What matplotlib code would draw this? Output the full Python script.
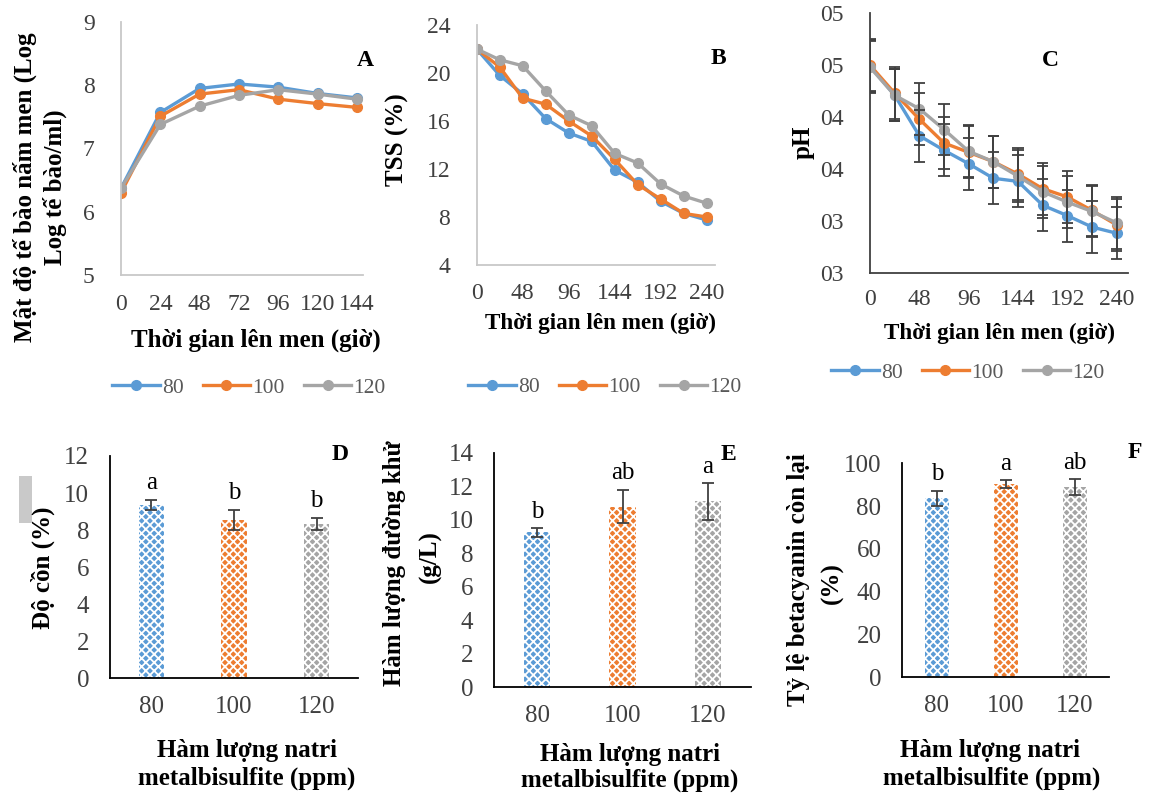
import matplotlib
matplotlib.use('Agg')
import matplotlib.pyplot as plt
import numpy as np
from matplotlib.patches import Rectangle
from matplotlib.lines import Line2D

plt.rcParams['font.family'] = ['Liberation Serif', 'DejaVu Serif']
plt.rcParams['hatch.linewidth'] = 1.3

# ---------------- data ----------------
series = ['80', '100', '120']
colors = ['#5B9BD5', '#ED7D31', '#A5A5A5']

time_A = [0, 24, 48, 72, 96, 120, 144]
yeast_80 = [6.37, 7.57, 7.95, 8.02, 7.97, 7.87, 7.80]
yeast_100 = [6.30, 7.51, 7.86, 7.93, 7.78, 7.71, 7.65]
yeast_120 = [6.37, 7.38, 7.67, 7.84, 7.93, 7.86, 7.78]

time_BC = [0, 24, 48, 72, 96, 120, 144, 168, 192, 216, 240]
tss_80 = [22.0, 19.8, 18.25, 16.2, 15.0, 14.3, 11.9, 10.9, 9.3, 8.3, 7.75]
tss_100 = [22.0, 20.5, 17.9, 17.4, 16.0, 14.75, 12.8, 10.7, 9.5, 8.3, 8.0]
tss_120 = [22.0, 21.1, 20.6, 18.5, 16.5, 15.6, 13.3, 12.5, 10.75, 9.75, 9.15]

ph_80 = [4.49, 4.21, 3.82, 3.68, 3.55, 3.41, 3.38, 3.15, 3.05, 2.94, 2.88]
ph_100 = [4.50, 4.23, 3.98, 3.75, 3.66, 3.57, 3.45, 3.31, 3.23, 3.10, 2.96]
ph_120 = [4.48, 4.21, 4.08, 3.88, 3.67, 3.57, 3.43, 3.28, 3.18, 3.09, 2.98]
ph_err = [0.25, 0.25, 0.25, 0.25, 0.25, 0.25, 0.25, 0.25, 0.25, 0.25, 0.25]
ph_ticks = [5.0, 4.5, 4.0, 3.5, 3.0, 2.5]
ph_ticklabels = ['05', '05', '04', '04', '03', '03']

alcohol = [9.36, 8.55, 8.33]
alcohol_err = [0.27, 0.55, 0.34]
alcohol_letters = ['a', 'b', 'b']

sugar = [9.24, 10.78, 11.09]
sugar_err = [0.25, 1.0, 1.09]
sugar_letters = ['b', 'ab', 'a']

betacyanin = [83.6, 90.3, 88.8]
betacyanin_err = [3.5, 1.7, 3.7]
betacyanin_letters = ['b', 'a', 'ab']

# ---------------- figure ----------------
W, H = 1154, 797
fig = plt.figure(figsize=(W / 100, H / 100), dpi=100)


def rect(l, t, r, b):
    return [l / W, 1 - b / H, (r - l) / W, (b - t) / H]


def ftext(x, y, s, **kw):
    fig.text(x / W, 1 - y / H, s, **kw)


TICKC = '#404040'
LEGC = '#595959'


def style(ax, spine_color, fs, xpad, ypad):
    for s in ['top', 'right']:
        ax.spines[s].set_visible(False)
    for s in ['left', 'bottom']:
        ax.spines[s].set_color(spine_color)
        ax.spines[s].set_linewidth(1.3)
    ax.tick_params(axis='both', length=0, labelsize=fs, colors=TICKC)
    ax.tick_params(axis='x', pad=xpad)
    ax.tick_params(axis='y', pad=ypad)


def line_legend(cx, cy):
    handles = [Line2D([], [], color=c, lw=2.4, marker='o', ms=7) for c in colors]
    leg = fig.legend(handles, series, loc='center', bbox_to_anchor=(cx / W, 1 - cy / H),
                     ncol=3, frameon=False, fontsize=15.5, handlelength=2.2,
                     handletextpad=0.1, columnspacing=0.9)
    for t in leg.get_texts():
        t.set_color(LEGC)


LBL = dict(fontsize=18, fontweight='bold', color='black')
LBL2 = dict(fontsize=16.7, fontweight='bold', color='black')
TOPFS = 17
BOTFS = 18

# ---- Panel A ----
axA = fig.add_axes(rect(121, 22, 363, 275))
for ys, c in zip([yeast_80, yeast_100, yeast_120], colors):
    axA.plot(time_A, ys, color=c, lw=2.4, marker='o', ms=7)
axA.set_xlim(0, 147.7)
axA.set_ylim(5, 9)
axA.set_xticks(time_A)
axA.set_yticks([5, 6, 7, 8, 9])
style(axA, '#c8c8c8', TOPFS, 14, 19)
ftext(256, 340, 'Thời gian lên men (giờ)', ha='center', va='center', **LBL)
ftext(25, 187, 'Mật độ tế bào nấm men (Log', ha='center', va='center', rotation=90, **LBL)
ftext(55, 187, 'Log tế bào/ml)', ha='center', va='center', rotation=90, **LBL)
ftext(365, 60, 'A', ha='center', va='center', fontsize=17, fontweight='bold')
line_legend(249, 388)

# ---- Panel B ----
axB = fig.add_axes(rect(476.7, 25, 715, 265))
for ys, c in zip([tss_80, tss_100, tss_120], colors):
    axB.plot(time_BC, ys, color=c, lw=2.4, marker='o', ms=7)
axB.set_xlim(0, 248.7)
axB.set_ylim(4, 24)
axB.set_xticks([0, 48, 96, 144, 192, 240])
axB.set_yticks([4, 8, 12, 16, 20, 24])
style(axB, '#c8c8c8', TOPFS, 13, 19)
ftext(600, 323, 'Thời gian lên men (giờ)', ha='center', va='center', **LBL2)
ftext(397, 140, 'TSS (%)', ha='center', va='center', rotation=90, **LBL)
ftext(718, 58, 'B', ha='center', va='center', fontsize=17, fontweight='bold')
line_legend(605, 387)

# ---- Panel C ----
axC = fig.add_axes(rect(870, 13.3, 1128, 272.7))
for ys, c in zip([ph_80, ph_100, ph_120], colors):
    axC.plot(time_BC, ys, color=c, lw=2.4, marker='o', ms=7, zorder=3)
t_arr = np.array(time_BC, dtype=float)
e_arr = np.array(ph_err)
cap_half = 5.4  # half cap width in hours
for ys in [ph_80, ph_100, ph_120]:
    y_arr = np.array(ys)
    axC.vlines(t_arr, y_arr - e_arr, y_arr + e_arr, colors='#404040', lw=1.3, zorder=4)
    axC.hlines(np.concatenate([y_arr - e_arr, y_arr + e_arr]),
               np.concatenate([t_arr, t_arr]) - cap_half,
               np.concatenate([t_arr, t_arr]) + cap_half,
               colors='#404040', lw=1.3, zorder=4)
axC.set_xlim(0, 251)
axC.set_ylim(2.5, 5.0)
axC.set_xticks([0, 48, 96, 144, 192, 240])
axC.set_yticks(ph_ticks)
axC.set_yticklabels(ph_ticklabels)
style(axC, '#404040', TOPFS, 12, 19)
for sp in axC.spines.values():
    sp.set_zorder(5)
ftext(999, 333, 'Thời gian lên men (giờ)', ha='center', va='center', **LBL2)
ftext(803, 142, 'pH', ha='center', va='center', rotation=90, **LBL)
ftext(1050, 60, 'C', ha='center', va='center', fontsize=17, fontweight='bold')
line_legend(968, 373)


# ---- bar panels ----
def bar_panel(box, vals, errs, letters, ymax, step, width, letter_pad):
    ax = fig.add_axes(rect(*box))
    xs = range(len(series))
    for i, (v, c) in enumerate(zip(vals, colors)):
        ax.bar(i, v, width=width, facecolor=c, edgecolor='white', linewidth=0,
               hatch='xxxx', zorder=2)
    ax.errorbar(list(xs), vals, yerr=errs, fmt='none', ecolor='#404040',
                elinewidth=1.3, capsize=4, capthick=1.3, zorder=3)
    for i, (v, e, L) in enumerate(zip(vals, errs, letters)):
        ax.annotate(L, (i, v + e), xytext=(0, letter_pad), textcoords='offset points',
                    ha='center', va='bottom', fontsize=18, color='black')
    ax.set_xlim(-0.5, 2.5)
    ax.set_ylim(0, ymax)
    ax.set_xticks(list(xs))
    ax.set_xticklabels(series)
    ax.set_yticks([k * step for k in range(int(round(ymax / step)) + 1)])
    style(ax, 'black', BOTFS, 13, 15)
    return ax


axD = bar_panel((110, 456, 358, 678.3), alcohol, alcohol_err, alcohol_letters, 12, 2, 0.31, 4)
ftext(43, 568, 'Độ cồn (%)', ha='center', va='center', rotation=90, **LBL)
ftext(247, 750, 'Hàm lượng natri', ha='center', va='center', **LBL)
ftext(247, 778, 'metalbisulfite (ppm)', ha='center', va='center', **LBL)
ftext(340, 455, 'D', ha='center', va='center', fontsize=17, fontweight='bold')
fig.patches.append(Rectangle((19 / W, 1 - 523 / H), 13 / W, 47 / H,
                             transform=fig.transFigure, facecolor='#c9c9c9',
                             edgecolor='none'))

axE = bar_panel((494.3, 452.7, 750.7, 687.3), sugar, sugar_err, sugar_letters, 14, 2, 0.31, 4)
ftext(395, 563, 'Hàm lượng đường khử', ha='center', va='center', rotation=90, **LBL)
ftext(430, 557, '(g/L)', ha='center', va='center', rotation=90, **LBL)
ftext(630, 755, 'Hàm lượng natri', ha='center', va='center', **LBL)
ftext(630, 780, 'metalbisulfite (ppm)', ha='center', va='center', **LBL)
ftext(728, 455, 'E', ha='center', va='center', fontsize=17, fontweight='bold')

axF = bar_panel((902.3, 463.3, 1109.3, 677.3), betacyanin, betacyanin_err, betacyanin_letters, 100, 20, 0.35, 4)
ftext(798, 580, 'Tỷ lệ betacyanin còn lại', ha='center', va='center', rotation=90, **LBL)
ftext(832, 583, '(%)', ha='center', va='center', rotation=90, **LBL)
ftext(990, 750, 'Hàm lượng natri', ha='center', va='center', **LBL)
ftext(992, 778, 'metalbisulfite (ppm)', ha='center', va='center', **LBL)
ftext(1135, 453, 'F', ha='center', va='center', fontsize=17, fontweight='bold')

fig.savefig('out.png', dpi=100)
